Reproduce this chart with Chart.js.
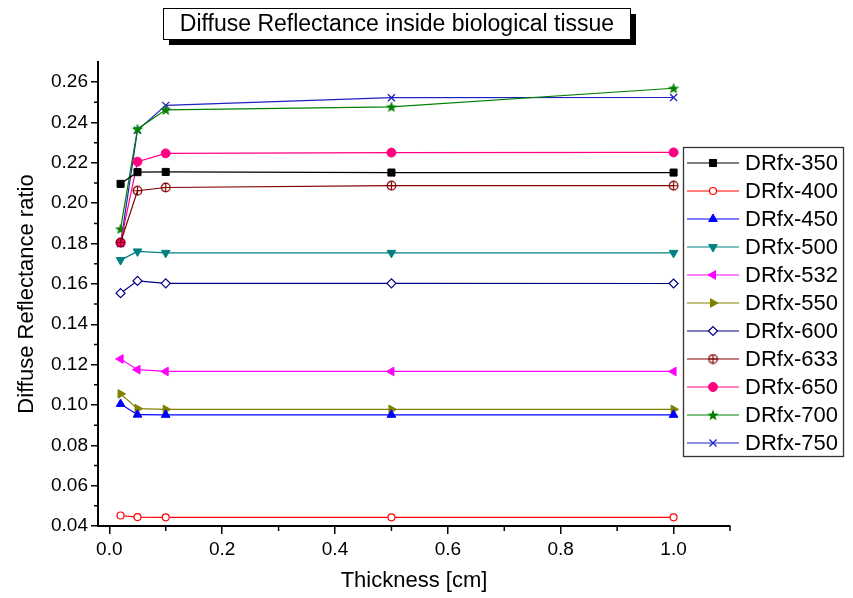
<!DOCTYPE html>
<html>
<head>
<meta charset="utf-8">
<script src="https://cdn.jsdelivr.net/npm/chart.js@4.4.1/dist/chart.umd.min.js"></script>
<style>
  html, body { margin: 0; padding: 0; background: #fff; }
  #wrap { width: 853px; height: 598px; }
</style>
</head>
<body>
<div id="wrap"><canvas id="grafico" width="853" height="598"></canvas></div>
<script>
// datos
const thickness = [0.02, 0.05, 0.1, 0.5, 1.0];
const dr350 = [0.2096, 0.2154, 0.2155, 0.2152, 0.2152];
const dr400 = [0.0452, 0.0444, 0.0443, 0.0443, 0.0443];
const dr450 = [0.1005, 0.0952, 0.0951, 0.0951, 0.0951];
const dr500 = [0.1718, 0.1761, 0.1754, 0.1754, 0.1754];
const dr532 = [0.1228, 0.1175, 0.1166, 0.1166, 0.1166];
const dr550 = [0.1055, 0.0982, 0.0978, 0.0978, 0.0978];
const dr600 = [0.1554, 0.1615, 0.1603, 0.1603, 0.1602];
const dr633 = [0.1805, 0.2062, 0.2078, 0.2087, 0.2087];
const dr650 = [0.1805, 0.2206, 0.2247, 0.2251, 0.2252];
const dr700 = [0.1873, 0.2368, 0.2463, 0.2478, 0.2570];
const dr750 = [0.1800, 0.2362, 0.2485, 0.2523, 0.2524];
const etiquetas = ['DRfx-350', 'DRfx-400', 'DRfx-450', 'DRfx-500', 'DRfx-532', 'DRfx-550',
                   'DRfx-600', 'DRfx-633', 'DRfx-650', 'DRfx-700', 'DRfx-750'];

const xTicks = [0, 0.2, 0.4, 0.6, 0.8, 1.0];
const xMinor = [0.1, 0.3, 0.5, 0.7, 0.9, 1.1];
const yTicks = [0.04, 0.06, 0.08, 0.10, 0.12, 0.14, 0.16, 0.18, 0.20, 0.22, 0.24, 0.26];
const yMinor = [0.05, 0.07, 0.09, 0.11, 0.13, 0.15, 0.17, 0.19, 0.21, 0.23, 0.25];

const titulo = 'Diffuse Reflectance inside biological tissue';
const FUENTE = '"Liberation Sans", Arial, sans-serif';

// marcadores que Chart.js no trae
function estrella(color) {
  const c = document.createElement('canvas');
  c.width = 12; c.height = 12;
  const g = c.getContext('2d');
  g.fillStyle = color;
  g.beginPath();
  for (let i = 0; i < 10; i++) {
    const r = i % 2 ? 2.5 : 6;
    const a = -Math.PI / 2 + i * Math.PI / 5;
    g.lineTo(6 + r * Math.cos(a), 6.5 + r * Math.sin(a));
  }
  g.closePath();
  g.fill();
  return c;
}

function circuloCruz(color) {
  const c = document.createElement('canvas');
  c.width = 11; c.height = 11;
  const g = c.getContext('2d');
  g.strokeStyle = color;
  g.lineWidth = 1.2;
  g.beginPath();
  g.arc(5.5, 5.5, 4.3, 0, Math.PI * 2);
  g.moveTo(5.5, 1); g.lineTo(5.5, 10);
  g.moveTo(1, 5.5); g.lineTo(10, 5.5);
  g.stroke();
  return c;
}

function serie(label, data, color, estilo, extra) {
  return Object.assign({
    label: label,
    data: data,
    borderColor: color,
    borderWidth: 1.2,
    pointStyle: estilo,
    pointRadius: 5,
    pointBackgroundColor: color,
    pointBorderColor: color,
    pointBorderWidth: 1,
    pointRotation: 0,
    tension: 0
  }, extra || {});
}

const datasets = [
  serie(etiquetas[0], dr350, '#000000', 'rect'),
  serie(etiquetas[1], dr400, '#ff0000', 'circle', { pointRadius: 3.5, pointBackgroundColor: '#ffffff', pointBorderWidth: 1.2 }),
  serie(etiquetas[2], dr450, '#0000ff', 'triangle'),
  serie(etiquetas[3], dr500, '#008080', 'triangle', { pointRotation: 180 }),
  serie(etiquetas[4], dr532, '#ff00ff', 'triangle', { pointRotation: 270 }),
  serie(etiquetas[5], dr550, '#808000', 'triangle', { pointRotation: 90 }),
  serie(etiquetas[6], dr600, '#000080', 'rectRot', { pointRadius: 4.5, pointBackgroundColor: '#ffffff', pointBorderWidth: 1.2 }),
  serie(etiquetas[7], dr633, '#800000', circuloCruz('#800000')),
  serie(etiquetas[8], dr650, '#ff0080', 'circle', { pointRadius: 4.5 }),
  serie(etiquetas[9], dr700, '#008000', estrella('#008000')),
  serie(etiquetas[10], dr750, '#2020c0', 'crossRot', { pointRadius: 5, pointBorderWidth: 1.3 })
];
datasets.forEach(d => {
  d.data = d.data.map((v, i) => ({ x: thickness[i], y: v }));
});

// caja del titulo con sombra, leyenda y ticks menores
const extras = {
  id: 'extras',
  afterDraw(chart) {
    const ctx = chart.ctx;
    const area = chart.chartArea;
    const sx = chart.scales.x, sy = chart.scales.y;

    ctx.save();
    ctx.strokeStyle = '#000';
    ctx.lineWidth = 1.5;
    ctx.beginPath();
    xMinor.forEach(v => {
      const px = sx.getPixelForValue(v);
      ctx.moveTo(px, area.bottom);
      ctx.lineTo(px, area.bottom + 5);
    });
    yMinor.forEach(v => {
      const py = sy.getPixelForValue(v);
      ctx.moveTo(area.left, py);
      ctx.lineTo(area.left - 4, py);
    });
    ctx.stroke();

    // titulo
    ctx.fillStyle = '#000';
    ctx.fillRect(169, 14, 467, 31);
    ctx.fillStyle = '#fff';
    ctx.fillRect(163, 8, 467, 31);
    ctx.strokeStyle = '#000';
    ctx.lineWidth = 1;
    ctx.strokeRect(163.5, 8.5, 467, 31);
    ctx.fillStyle = '#000';
    ctx.font = '23px ' + FUENTE;
    ctx.textAlign = 'center';
    ctx.textBaseline = 'middle';
    ctx.fillText(titulo, 397, 24.5);

    // leyenda
    const lx = 683, ly = 147, lw = 160, lh = 309;
    ctx.fillStyle = '#fff';
    ctx.fillRect(lx, ly, lw, lh);
    ctx.strokeStyle = '#333';
    ctx.lineWidth = 1.3;
    ctx.strokeRect(lx + 0.5, ly + 0.5, lw, lh);
    ctx.font = '22px ' + FUENTE;
    ctx.textAlign = 'left';
    chart.data.datasets.forEach((d, i) => {
      const y = 163 + i * 28;
      ctx.strokeStyle = d.borderColor;
      ctx.lineWidth = 1.2;
      ctx.beginPath();
      ctx.moveTo(687, y);
      ctx.lineTo(739, y);
      ctx.stroke();
      ctx.fillStyle = d.pointBackgroundColor;
      ctx.strokeStyle = d.pointBorderColor;
      ctx.lineWidth = d.pointBorderWidth;
      Chart.helpers.drawPoint(ctx, {
        pointStyle: d.pointStyle,
        rotation: d.pointRotation,
        radius: d.pointRadius,
        borderWidth: d.pointBorderWidth
      }, 713, y);
      ctx.fillStyle = '#000';
      ctx.fillText(d.label, 745, y + 1);
    });
    ctx.restore();
  }
};

new Chart(document.getElementById('grafico'), {
  type: 'line',
  data: { datasets: datasets },
  options: {
    responsive: false,
    animation: false,
    layout: { padding: { top: 62, right: 123, bottom: 0, left: 0 } },
    plugins: {
      legend: { display: false },
      tooltip: { enabled: false }
    },
    scales: {
      x: {
        type: 'linear',
        min: -0.02,
        max: 1.1,
        afterFit(scale) { scale.height = 72; },
        afterBuildTicks(scale) { scale.ticks = xTicks.map(v => ({ value: v })); },
        border: { display: true, color: '#000', width: 2 },
        grid: { drawOnChartArea: false, drawTicks: true, tickLength: 8, color: '#000', lineWidth: 1.5 },
        ticks: {
          color: '#000',
          padding: 4,
          maxRotation: 0,
          autoSkip: false,
          font: { family: FUENTE, size: 19 },
          callback: v => v.toFixed(1)
        },
        title: {
          display: true,
          text: 'Thickness [cm]',
          color: '#000',
          font: { family: FUENTE, size: 22 },
          padding: { top: 0, bottom: 4 }
        }
      },
      y: {
        type: 'linear',
        min: 0.04,
        max: 0.27,
        afterFit(scale) { scale.width = 98; },
        afterBuildTicks(scale) { scale.ticks = yTicks.map(v => ({ value: v })); },
        border: { display: true, color: '#000', width: 2 },
        grid: { drawOnChartArea: false, drawTicks: true, tickLength: 7, color: '#000', lineWidth: 1.5 },
        ticks: {
          color: '#000',
          padding: 3,
          autoSkip: false,
          font: { family: FUENTE, size: 19 },
          callback: v => v.toFixed(2)
        },
        title: {
          display: true,
          text: 'Diffuse Reflectance ratio',
          color: '#000',
          font: { family: FUENTE, size: 22 },
          padding: { top: 14, bottom: 0 }
        }
      }
    }
  },
  plugins: [extras]
});
</script>
</body>
</html>
